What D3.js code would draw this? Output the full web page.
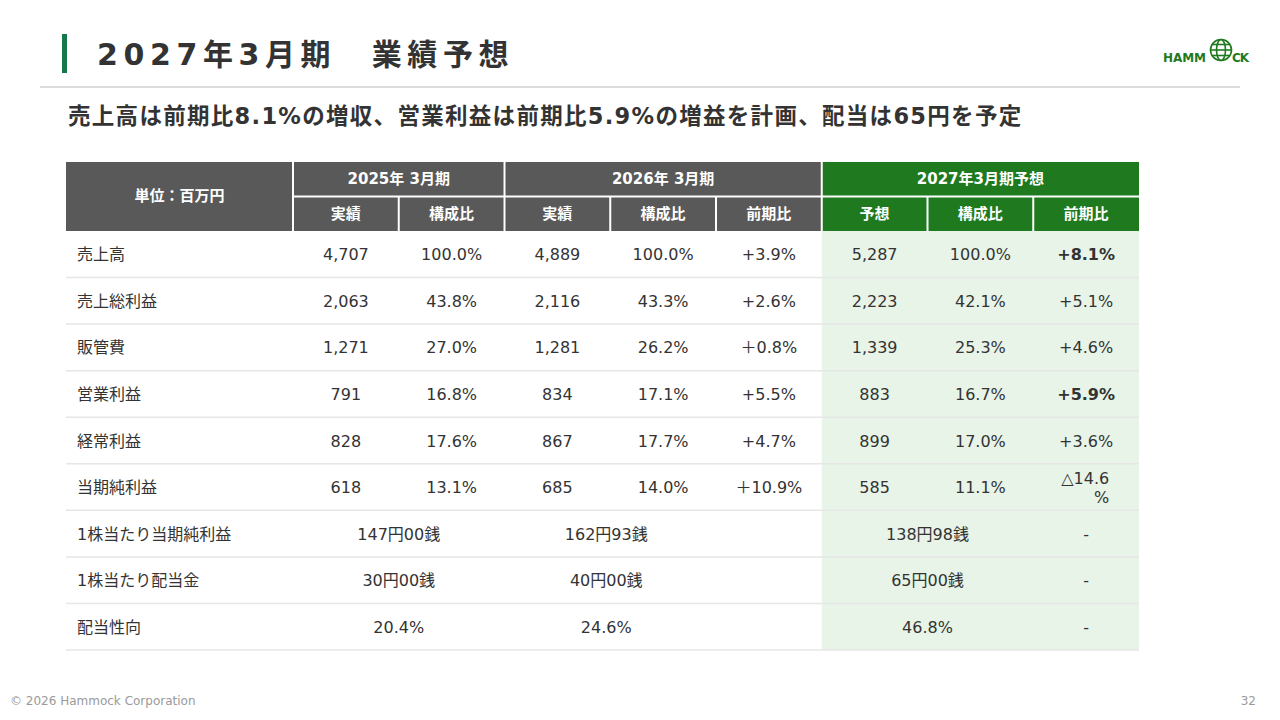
<!DOCTYPE html>
<html>
<head>
<meta charset="utf-8">
<title>2027年3月期 業績予想</title>
<script src="https://cdn.jsdelivr.net/npm/d3@7"></script>
<style>
  body { margin: 0; background: #fff; }
  svg { display: block; }
  text { font-family: "DejaVu Sans", "Noto Sans CJK JP", sans-serif; }
</style>
</head>
<body>
<div id="viz_container"></div>
<script>
// ---- data ----
var rowLabels = ["売上高", "売上総利益", "販管費", "営業利益", "経常利益", "当期純利益",
                 "1株当たり当期純利益", "1株当たり配当金", "配当性向"];
var fy2025Val   = ["4,707", "2,063", "1,271", "791", "828", "618"];
var fy2025Ratio = ["100.0%", "43.8%", "27.0%", "16.8%", "17.6%", "13.1%"];
var fy2026Val   = ["4,889", "2,116", "1,281", "834", "867", "685"];
var fy2026Ratio = ["100.0%", "43.3%", "26.2%", "17.1%", "17.7%", "14.0%"];
var fy2026Yoy   = ["+3.9%", "+2.6%", "＋0.8%", "+5.5%", "+4.7%", "＋10.9%"];
var fy2027Val   = ["5,287", "2,223", "1,339", "883", "899", "585"];
var fy2027Ratio = ["100.0%", "42.1%", "25.3%", "16.7%", "17.0%", "11.1%"];
var fy2027Yoy   = ["+8.1%", "+5.1%", "+4.6%", "+5.9%", "+3.6%", "△14.6\n%"];
var boldYoy     = ["+8.1%", "+5.9%"];
// per share rows: [2025, 2026, 2027, 2027 yoy]
var perShare = [
  ["147円00銭", "162円93銭", "138円98銭", "-"],
  ["30円00銭", "40円00銭", "65円00銭", "-"],
  ["20.4%", "24.6%", "46.8%", "-"]
];
var groups = ["2025年 3月期", "2026年 3月期", "2027年3月期予想"];
var subHeads = ["実績", "構成比", "実績", "構成比", "前期比", "予想", "構成比", "前期比"];
var colKeys = ["c0", "c1", "c2", "c3", "c4", "c5", "c6", "c7"];

var W = 1280, H = 720;
var dark = "#595959", green = "#1f7a1f", lightGreen = "#e8f4e8", ink = "#333";

var svg = d3.select("#viz_container").append("svg").attr("width", W).attr("height", H);

// ---- title block ----
svg.append("rect").attr("x", 62).attr("y", 34).attr("width", 5).attr("height", 39).attr("fill", "#15774a");
svg.append("text").attr("x", 97).attr("y", 65).attr("font-size", 30).attr("font-weight", "bold")
   .attr("letter-spacing", 5.6).attr("fill", "#333").text("2027年3月期　業績予想");
svg.append("line").attr("x1", 40).attr("x2", 1240).attr("y1", 87).attr("y2", 87)
   .attr("stroke", "#dcdcdc").attr("stroke-width", 2);
svg.append("text").attr("x", 68).attr("y", 124).attr("font-size", 22.5).attr("font-weight", "bold")
   .attr("letter-spacing", 1.3).attr("fill", "#333")
   .text("売上高は前期比8.1%の増収、営業利益は前期比5.9%の増益を計画、配当は65円を予定");

// logo
var logo = svg.append("g").attr("transform", "translate(1163,0)");
logo.append("text").attr("x", 0).attr("y", 62).attr("font-size", 12).attr("font-weight", "bold")
    .attr("fill", green).attr("textLength", 43).text("HAMM");
var globe = logo.append("g").attr("transform", "translate(58,50)")
    .attr("fill", "none").attr("stroke", green).attr("stroke-width", 1.6);
globe.append("circle").attr("r", 10.5);
globe.append("ellipse").attr("rx", 4.5).attr("ry", 10.5);
globe.append("line").attr("x1", -10.5).attr("x2", 10.5);
globe.append("line").attr("x1", -9).attr("x2", 9).attr("y1", -5.5).attr("y2", -5.5);
globe.append("line").attr("x1", -9).attr("x2", 9).attr("y1", 5.5).attr("y2", 5.5);
logo.append("text").attr("x", 69).attr("y", 62).attr("font-size", 12).attr("font-weight", "bold")
    .attr("fill", green).attr("textLength", 17).text("CK");

// ---- table scales ----
var tableLeft = 66, labelRight = 293, tableRight = 1139;
var x = d3.scaleBand().domain(colKeys).range([labelRight, tableRight]);
var y = d3.scaleBand().domain(rowLabels).range([231, 650]);
var hy = d3.scaleBand().domain(["top", "sub"]).range([162, 231]);
var cx = function (k) { return x(k) + x.bandwidth() / 2; };

// forecast background
svg.append("rect").attr("x", x("c5")).attr("y", y.range()[0])
   .attr("width", tableRight - x("c5")).attr("height", y.range()[1] - y.range()[0]).attr("fill", lightGreen);

// header cells
var groupSpans = [["c0", "c1"], ["c2", "c4"], ["c5", "c7"]];
svg.append("rect").attr("x", tableLeft).attr("y", hy("top")).attr("width", labelRight - tableLeft)
   .attr("height", hy.bandwidth() * 2).attr("fill", dark);
svg.selectAll(".grp").data(groups).join("rect")
   .attr("x", function (d, i) { return x(groupSpans[i][0]); })
   .attr("y", hy("top"))
   .attr("width", function (d, i) { return x(groupSpans[i][1]) + x.bandwidth() - x(groupSpans[i][0]); })
   .attr("height", hy.bandwidth())
   .attr("fill", function (d, i) { return i === 2 ? green : dark; });
svg.selectAll(".sub").data(subHeads).join("rect")
   .attr("x", function (d, i) { return x(colKeys[i]); })
   .attr("y", hy("sub")).attr("width", x.bandwidth()).attr("height", hy.bandwidth())
   .attr("fill", function (d, i) { return i >= 5 ? green : dark; });

// white header grid lines
var hg = svg.append("g").attr("stroke", "#fff").attr("stroke-width", 2);
hg.append("line").attr("x1", labelRight).attr("x2", tableRight).attr("y1", hy("sub")).attr("y2", hy("sub"));
colKeys.forEach(function (k, i) {
  var top = (i === 0 || i === 2 || i === 5) ? hy("top") : hy("sub");
  hg.append("line").attr("x1", x(k)).attr("x2", x(k)).attr("y1", top).attr("y2", 231);
});

var headText = svg.append("g").attr("fill", "#fff").attr("font-weight", "bold")
   .attr("font-size", 15).attr("text-anchor", "middle");
headText.append("text").attr("x", (tableLeft + labelRight) / 2).attr("y", 196 + 5).text("単位：百万円");
groups.forEach(function (g, i) {
  var a = x(groupSpans[i][0]), b = x(groupSpans[i][1]) + x.bandwidth();
  headText.append("text").attr("x", (a + b) / 2).attr("y", hy("top") + hy.bandwidth() / 2 + 5).text(g);
});
subHeads.forEach(function (s, i) {
  headText.append("text").attr("x", cx(colKeys[i])).attr("y", hy("sub") + hy.bandwidth() / 2 + 5).text(s);
});

// row separators
svg.selectAll(".sep").data(rowLabels).join("line")
   .attr("x1", tableLeft).attr("x2", tableRight)
   .attr("y1", function (d) { return y(d) + y.bandwidth(); })
   .attr("y2", function (d) { return y(d) + y.bandwidth(); })
   .attr("stroke", "#e6e6e6").attr("stroke-width", 1.5);

// body
var body = svg.append("g").attr("font-size", 16).attr("fill", ink);
body.selectAll(".lbl").data(rowLabels).join("text")
   .attr("x", 77).attr("y", function (d) { return y(d) + y.bandwidth() / 2 + 6; })
   .text(function (d) { return d; });

var cols = [fy2025Val, fy2025Ratio, fy2026Val, fy2026Ratio, fy2026Yoy, fy2027Val, fy2027Ratio, fy2027Yoy];
cols.forEach(function (arr, ci) {
  arr.forEach(function (v, ri) {
    var yc = y(rowLabels[ri]) + y.bandwidth() / 2;
    var t = body.append("text").attr("text-anchor", "middle").attr("x", cx(colKeys[ci]))
       .attr("font-weight", boldYoy.indexOf(v) >= 0 && ci === 7 ? "bold" : null);
    var parts = v.split("\n");
    if (parts.length > 1) {
      t.attr("text-anchor", "end");
      parts.forEach(function (p, pi) {
        t.append("tspan").attr("x", x(colKeys[ci]) + 76).attr("y", yc - 3 + pi * 19).text(p);
      });
    } else {
      t.attr("y", yc + 6).text(v);
    }
  });
});

// merged cells: 2025 (c0-c1), 2026 (c2-c3), 2027 (c5-c6)
perShare.forEach(function (r, i) {
  var yc = y(rowLabels[6 + i]) + y.bandwidth() / 2 + 6;
  body.append("text").attr("text-anchor", "middle").attr("x", x("c1")).attr("y", yc).text(r[0]);
  body.append("text").attr("text-anchor", "middle").attr("x", x("c3") - 4).attr("y", yc).text(r[1]);
  body.append("text").attr("text-anchor", "middle").attr("x", x("c6")).attr("y", yc).text(r[2]);
  body.append("text").attr("text-anchor", "middle").attr("x", cx("c7")).attr("y", yc).text(r[3]);
});

// footer
svg.append("text").attr("x", 10).attr("y", 705).attr("font-size", 12).attr("fill", "#9a9a9a")
   .text("© 2026 Hammock Corporation");
svg.append("text").attr("x", 1256).attr("y", 705).attr("font-size", 12).attr("fill", "#9a9a9a")
   .attr("text-anchor", "end").text("32");
</script>
</body>
</html>
